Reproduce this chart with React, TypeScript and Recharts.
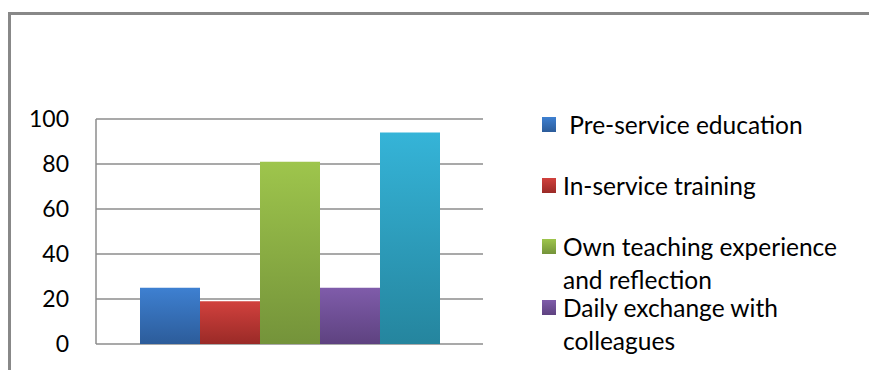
import { Bar, BarChart, CartesianGrid, Legend, XAxis, YAxis } from "recharts";

// one category, five series (fifth legend entry is cut off below the frame)
const categories = [""];
const seriesKeys = ["pre", "inService", "own", "daily", "fifth"];
const seriesNames = [
  " Pre-service education",
  "In-service training",
  "Own teaching experience and reflection",
  "Daily exchange with colleagues",
  "",
];
const seriesValues = [25, 19, 81, 25, 94];
const yTicks = [0, 20, 40, 60, 80, 100];

const topColors = ["#3e80d1", "#d1413d", "#9ec54c", "#7f5caa", "#35b4d8"];
const bottomColors = ["#2c5c9a", "#9a2a27", "#74933a", "#5e4280", "#25859e"];

const FONT = "Lato, 'Open Sans', sans-serif";

const chartData = categories.map((cat) => {
  const row: Record<string, string | number> = { cat };
  seriesKeys.forEach((k, i) => {
    row[k] = seriesValues[i];
  });
  return row;
});

const LegendBox = () => (
  <div style={{ fontFamily: FONT, fontSize: 24.5, color: "#000" }}>
    {seriesNames.slice(0, 4).map((name, i) => (
      <div key={name} style={{ height: 61, position: "relative" }}>
        <div
          style={{
            position: "absolute",
            left: 0,
            top: 9,
            width: 14,
            height: 15,
            background: `linear-gradient(${topColors[i]}, ${bottomColors[i]})`,
          }}
        />
        <div
          style={{
            position: "absolute",
            left: 21,
            top: 0,
            width: 285,
            lineHeight: "33px",
            whiteSpace: "pre-wrap",
          }}
        >
          {name}
        </div>
      </div>
    ))}
  </div>
);

const App = () => {
  return (
    <div style={{ position: "relative", width: 869, height: 370, overflow: "hidden", background: "#fff" }}>
      <style>{"body{margin:0;overflow:hidden}"}</style>
      {/* outer frame: only top and left edges are inside the picture */}
      <div style={{ position: "absolute", left: 8, top: 12, width: 861, height: 2.5, background: "#888" }} />
      <div style={{ position: "absolute", left: 8, top: 12, width: 2.5, height: 358, background: "#888" }} />
      <div style={{ position: "absolute", left: 0, top: 0 }}>
        <BarChart
          width={869}
          height={370}
          data={chartData}
          margin={{ top: 119, right: 386, bottom: 26, left: 0 }}
          barCategoryGap={44}
          barGap={0}
        >
          <defs>
            {seriesKeys.map((k, i) => (
              <linearGradient key={k} id={`grad-${k}`} x1="0" y1="0" x2="0" y2="1">
                <stop offset="0%" stopColor={topColors[i]} />
                <stop offset="100%" stopColor={bottomColors[i]} />
              </linearGradient>
            ))}
          </defs>
          <CartesianGrid vertical={false} stroke="#8c8c8c" strokeWidth={1.5} />
          <XAxis dataKey="cat" hide />
          <YAxis
            width={96}
            domain={[0, 100]}
            ticks={yTicks}
            interval={0}
            tickLine={false}
            tickMargin={21}
            axisLine={{ stroke: "#8c8c8c", strokeWidth: 1.5 }}
            tick={{ fontSize: 23, fill: "#000", fontFamily: FONT }}
          />
          {seriesKeys.map((k, i) => (
            <Bar
              key={k}
              dataKey={k}
              name={seriesNames[i]}
              fill={`url(#grad-${k})`}
              isAnimationActive={false}
            />
          ))}
          <Legend
            layout="vertical"
            align="center"
            verticalAlign="middle"
            content={<LegendBox />}
            wrapperStyle={{ left: 542, top: 108, width: 320, height: 250 }}
          />
        </BarChart>
      </div>
    </div>
  );
};

export default App;
